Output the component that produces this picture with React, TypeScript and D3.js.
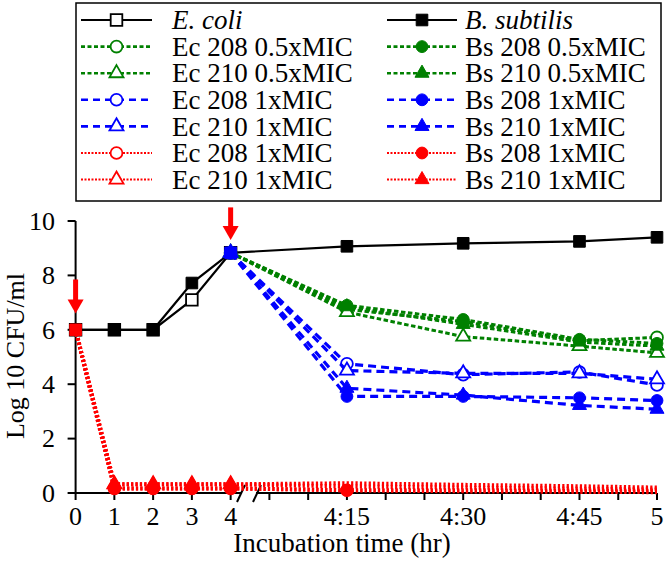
import React from 'react'
import * as d3 from 'd3'

// x positions are category slots: 0-4 h, then 5-min slots up to 5 h
const TICK_LABELS = ['0', '1', '2', '3', '4', '', '', '4:15', '', '', '4:30', '', '', '4:45', '', '5']
const Y_TICKS = [0, 2, 4, 6, 8, 10]

const X_CONTROL = [0, 1, 2, 3, 4]
const X_BSUB = [0, 1, 2, 3, 4, 7, 10, 13, 15]
const X_TREAT = [4, 7, 10, 13, 15]
const X_RED = [0, 1, 2, 3, 4, 7, 10, 13, 15]

const ECOLI = [6, 6, 6, 7.1, 8.83]
const BSUB = [6, 6, 6, 7.72, 8.83, 9.07, 9.18, 9.25, 9.4]

const EC208_HALF = [8.83, 6.75, 6.3, 5.6, 5.72]
const EC210_HALF = [8.83, 6.65, 5.75, 5.4, 5.15]
const BS208_HALF = [8.83, 6.9, 6.38, 5.65, 5.5]
const BS210_HALF = [8.83, 6.85, 6.2, 5.55, 5.4]

const EC208_ONE = [8.83, 4.75, 4.35, 4.45, 3.97]
const EC210_ONE = [8.83, 4.5, 4.4, 4.4, 4.18]
const BS208_ONE = [8.83, 3.55, 3.55, 3.5, 3.4]
const BS210_ONE = [8.83, 3.85, 3.6, 3.22, 3.08]

const EC208_RED = [6, 0.17, 0.17, 0.17, 0.17, 0.1, 0.06, 0.04, 0.03]
const EC210_RED = [6, 0.32, 0.32, 0.32, 0.32, 0.36, 0.3, 0.25, 0.2]
const BS208_RED = [6, 0.17, 0.17, 0.17, 0.17, 0.1, 0.1, 0.09, 0.08]
const BS210_RED = [6, 0.32, 0.32, 0.32, 0.32, 0.24, 0.2, 0.16, 0.13]
const RED_CIRCLE_MARKS = [1, 2, 3, 4, 7]
const RED_TRIANGLE_MARKS = [1, 2, 3, 4]

const START_POINTS = [
  { x: 0, y: 6, color: '#ff0000' },
  { x: 4, y: 8.83, color: '#0000ff' },
]
const ARROWS = [
  { x: 0, from: 7.85, to: 6.6 },
  { x: 4, from: 10.5, to: 9.3 },
]

const GREEN = '#008000'
const BLUE = '#0000ff'
const RED = '#ff0000'
const FONT = '"Liberation Serif", "Times New Roman", serif'

type Series = {
  label: string
  italic?: boolean
  xs: number[]
  ys: number[]
  color: string
  dash: string | null
  width: number
  shape: 'square' | 'circle' | 'triangle'
  open: boolean
  marks?: number[]
}

const SOLID = null
const GREEN_DASH = '4.5,2.5'
const BLUE_DASH = '8,5'
const RED_DOT = '2.2,2.2'

const ecSeries: Series[] = [
  { label: 'E. coli', italic: true, xs: X_CONTROL, ys: ECOLI, color: '#000', dash: SOLID, width: 2.2, shape: 'square', open: true },
  { label: 'Ec 208 0.5xMIC', xs: X_TREAT, ys: EC208_HALF, color: GREEN, dash: GREEN_DASH, width: 3, shape: 'circle', open: true },
  { label: 'Ec 210 0.5xMIC', xs: X_TREAT, ys: EC210_HALF, color: GREEN, dash: GREEN_DASH, width: 3, shape: 'triangle', open: true },
  { label: 'Ec 208 1xMIC', xs: X_TREAT, ys: EC208_ONE, color: BLUE, dash: BLUE_DASH, width: 3.2, shape: 'circle', open: true },
  { label: 'Ec 210 1xMIC', xs: X_TREAT, ys: EC210_ONE, color: BLUE, dash: BLUE_DASH, width: 3.2, shape: 'triangle', open: true },
  { label: 'Ec 208 1xMIC', xs: X_RED, ys: EC208_RED, color: RED, dash: RED_DOT, width: 4, shape: 'circle', open: true, marks: RED_CIRCLE_MARKS },
  { label: 'Ec 210 1xMIC', xs: X_RED, ys: EC210_RED, color: RED, dash: RED_DOT, width: 4, shape: 'triangle', open: true, marks: RED_TRIANGLE_MARKS },
]

const bsSeries: Series[] = [
  { label: 'B. subtilis', italic: true, xs: X_BSUB, ys: BSUB, color: '#000', dash: SOLID, width: 2.2, shape: 'square', open: false },
  { label: 'Bs 208 0.5xMIC', xs: X_TREAT, ys: BS208_HALF, color: GREEN, dash: GREEN_DASH, width: 3, shape: 'circle', open: false },
  { label: 'Bs 210 0.5xMIC', xs: X_TREAT, ys: BS210_HALF, color: GREEN, dash: GREEN_DASH, width: 3, shape: 'triangle', open: false },
  { label: 'Bs 208 1xMIC', xs: X_TREAT, ys: BS208_ONE, color: BLUE, dash: BLUE_DASH, width: 3.2, shape: 'circle', open: false },
  { label: 'Bs 210 1xMIC', xs: X_TREAT, ys: BS210_ONE, color: BLUE, dash: BLUE_DASH, width: 3.2, shape: 'triangle', open: false },
  { label: 'Bs 208 1xMIC', xs: X_RED, ys: BS208_RED, color: RED, dash: RED_DOT, width: 4, shape: 'circle', open: false, marks: RED_CIRCLE_MARKS },
  { label: 'Bs 210 1xMIC', xs: X_RED, ys: BS210_RED, color: RED, dash: RED_DOT, width: 4, shape: 'triangle', open: false, marks: RED_TRIANGLE_MARKS },
]

const symbolPath = (shape: Series['shape']) => {
  if (shape === 'square') return d3.symbol().type(d3.symbolSquare).size(135)()
  if (shape === 'circle') return d3.symbol().type(d3.symbolCircle).size(110)()
  return d3.symbol().type(d3.symbolTriangle).size(85)()
}

const Marker = ({ s, x, y }: { s: Series; x: number; y: number }) => (
  <path
    d={symbolPath(s.shape) || ''}
    transform={`translate(${x},${y})`}
    fill={s.open ? '#fff' : s.color}
    stroke={s.color}
    strokeWidth={s.open ? 1.8 : 1}
  />
)

export default function App() {
  const W = 666
  const H = 561
  const x = d3.scaleLinear().domain([0, 15]).range([75.6, 657])
  const y = d3.scaleLinear().domain([0, 10]).range([493, 221])

  const line = d3.line<[number, number]>()
    .x(d => x(d[0]))
    .y(d => y(d[1]))

  // draw order: controls, green, blue, red
  const order: Series[] = []
  for (let i = 0; i < ecSeries.length; i++) {
    order.push(ecSeries[i], bsSeries[i])
  }

  const renderSeries = (s: Series, i: number) => {
    const pts = s.xs.map((xv, k) => [xv, s.ys[k]] as [number, number])
    const marked = s.marks ? pts.filter(p => s.marks!.includes(p[0])) : pts
    return (
      <g key={i}>
        <path
          d={line(pts) || ''}
          fill='none'
          stroke={s.color}
          strokeWidth={s.width}
          strokeDasharray={s.dash || undefined}
        />
        {marked.map((p, k) => (
          <Marker key={k} s={s} x={x(p[0])} y={y(p[1])} />
        ))}
      </g>
    )
  }

  const breakX = [241, 257]

  // legend geometry
  const legend = { x: 76, y: 3, w: 585, h: 198 }
  const rowY = (i: number) => 20 + i * 26.6
  const cols = [
    { items: ecSeries, x0: 81, x1: 152, tx: 172 },
    { items: bsSeries, x0: 387, x1: 457, tx: 465 },
  ]

  return (
    <svg width={W} height={H} style={{ position: 'absolute', left: 0, top: 0, background: '#fff' }} fontFamily={FONT}>
      <rect x={0} y={0} width={W} height={H} fill='#fff' />

      {/* legend */}
      <rect x={legend.x} y={legend.y} width={legend.w} height={legend.h} fill='#fff' stroke='#000' strokeWidth={1.5} />
      {cols.map((c, ci) => (
        <g key={ci}>
          {c.items.map((s, i) => (
            <g key={i}>
              <line
                x1={c.x0} x2={c.x1} y1={rowY(i)} y2={rowY(i)}
                stroke={s.color}
                strokeWidth={s.dash === RED_DOT ? 2 : Math.min(s.width, 2.6)}
                strokeDasharray={s.dash === RED_DOT ? '2,1.5' : s.dash === BLUE_DASH ? '7,5' : s.dash === GREEN_DASH ? '4,2.5' : undefined}
              />
              <Marker s={s} x={(c.x0 + c.x1) / 2} y={rowY(i)} />
              <text
                x={c.tx}
                y={rowY(i)}
                dy='0.34em'
                fontSize={27}
                fontStyle={s.italic ? 'italic' : 'normal'}
                fill='#000'
              >
                {s.label}
              </text>
            </g>
          ))}
        </g>
      ))}

      {/* y axis */}
      <line x1={x(0)} x2={x(0)} y1={y(10)} y2={y(0)} stroke='#000' strokeWidth={2} />
      {Y_TICKS.map(t => (
        <g key={t}>
          <line x1={x(0) - 8} x2={x(0)} y1={y(t)} y2={y(t)} stroke='#000' strokeWidth={2} />
          <text x={55} y={y(t)} dy='0.34em' textAnchor='end' fontSize={26}>{t}</text>
        </g>
      ))}
      <text
        transform={`translate(24,356) rotate(-90)`}
        textAnchor='middle'
        fontSize={26}
      >
        Log 10 CFU/ml
      </text>

      {/* x axis */}
      <line x1={x(0)} x2={x(15)} y1={y(0)} y2={y(0)} stroke='#000' strokeWidth={2} />
      <rect x={breakX[0] + 1} y={y(0) - 2} width={breakX[1] - breakX[0] - 2} height={4} fill='#fff' />
      {breakX.map(bx => (
        <line key={bx} x1={bx - 4} x2={bx + 4} y1={y(0) + 9} y2={y(0) - 8} stroke='#000' strokeWidth={2} />
      ))}
      {TICK_LABELS.map((l, i) => (
        <g key={i}>
          <line x1={x(i)} x2={x(i)} y1={y(0)} y2={y(0) + 7} stroke='#000' strokeWidth={2} />
          {l && (
            <text x={x(i)} y={525} textAnchor='middle' fontSize={26}>{l}</text>
          )}
        </g>
      ))}
      <text x={342} y={552} textAnchor='middle' fontSize={27}>
        Incubation time (hr)
      </text>

      {/* series */}
      {order.map(renderSeries)}

      {/* treatment start points */}
      {START_POINTS.map((p, i) => (
        <path
          key={i}
          d={symbolPath('square') || ''}
          transform={`translate(${x(p.x)},${y(p.y)})`}
          fill={p.color}
          stroke={p.color}
        />
      ))}

      {/* addition arrows */}
      {ARROWS.map((a, i) => {
        const ax = x(a.x)
        const y0 = y(a.from)
        const y1 = y(a.to)
        return (
          <g key={i}>
            <line x1={ax} x2={ax} y1={y0} y2={y1 - 12} stroke={RED} strokeWidth={5} />
            <path d={`M${ax - 8},${y1 - 14} L${ax + 8},${y1 - 14} L${ax},${y1} Z`} fill={RED} />
          </g>
        )
      })}
    </svg>
  )
}
